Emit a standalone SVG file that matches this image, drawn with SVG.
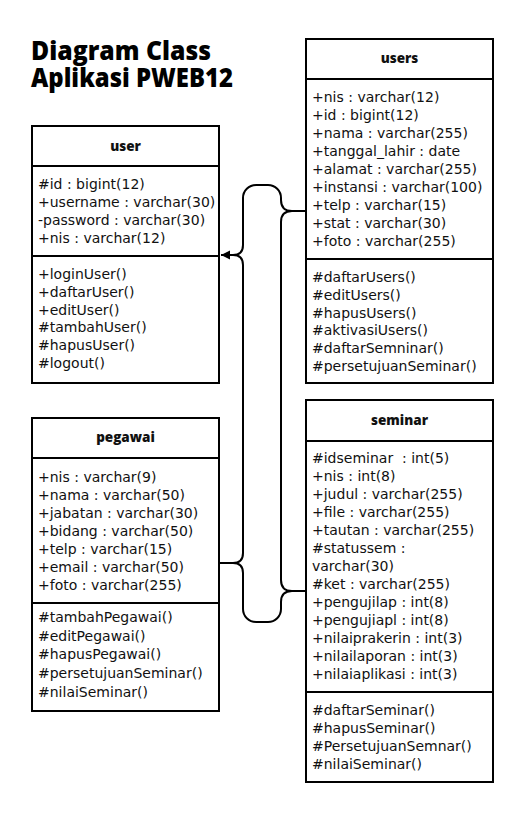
<svg xmlns="http://www.w3.org/2000/svg" width="520" height="814" viewBox="0 0 520 814">
<style>
.box{fill:#fff;stroke:#000;stroke-width:2}
.div{stroke:#000;stroke-width:2}
.t{font-family:"DejaVu Sans","Open Sans",sans-serif;font-size:14px;fill:#111}
.h{font-family:"Open Sans","DejaVu Sans",sans-serif;font-size:13.5px;font-weight:800;fill:#111;text-anchor:middle}
.title{font-family:"Open Sans","DejaVu Sans",sans-serif;font-size:26px;font-weight:800;fill:#000}
.c{fill:none;stroke:#000;stroke-width:2}
</style>
<defs>
<marker id="arr" markerWidth="10" markerHeight="10" refX="9" refY="5" orient="auto" markerUnits="userSpaceOnUse">
<path d="M0,0.5 L9,5 L0,9.5 Z" fill="#000"/>
</marker>
</defs>
<rect width="520" height="814" fill="#fff"/>
<g id="title">
<text class="title"><tspan x="31" y="60" textLength="180" lengthAdjust="spacingAndGlyphs">Diagram Class</tspan><tspan x="31" y="87" textLength="202" lengthAdjust="spacingAndGlyphs">Aplikasi PWEB12</tspan></text>
</g>
<g id="connectors">
<path class="c" d="M306,211 H292 Q281,211 281,200 V198 A13,13 0 0 0 268,185 H256 A13,13 0 0 0 243,198 V245 Q243,255 233,255 H221" marker-end="url(#arr)"/>
<path class="c" d="M292,211 Q281,211 281,222 V580 Q281,591 292,591 H306"/>
<path class="c" d="M233,255 Q243,255 243,265 V553 Q243,563 233,563 H219"/>
<path class="c" d="M233,563 Q243,563 243,573 V609 A13,13 0 0 0 256,622 H268 A13,13 0 0 0 281,609 V602 Q281,591 292,591"/>
</g>
<g id="user">
<rect class="box" x="32" y="126" width="187" height="257"/>
<line class="div" x1="32" y1="166" x2="219" y2="166"/>
<line class="div" x1="32" y1="256" x2="219" y2="256"/>
<text class="h" x="125.5" y="151">user</text>
<text class="t" x="38" y="189">#id : bigint(12)</text>
<text class="t" x="38" y="207">+username : varchar(30)</text>
<text class="t" x="38" y="225">-password : varchar(30)</text>
<text class="t" x="38" y="243">+nis : varchar(12)</text>
<text class="t" x="38" y="279">+loginUser()</text>
<text class="t" x="38" y="297">+daftarUser()</text>
<text class="t" x="38" y="315">+editUser()</text>
<text class="t" x="38" y="332">#tambahUser()</text>
<text class="t" x="38" y="350">#hapusUser()</text>
<text class="t" x="38" y="368">#logout()</text>
</g>
<g id="users">
<rect class="box" x="306" y="39" width="187" height="344"/>
<line class="div" x1="306" y1="79" x2="493" y2="79"/>
<line class="div" x1="306" y1="259" x2="493" y2="259"/>
<text class="h" x="399.5" y="63">users</text>
<text class="t" x="312" y="102">+nis : varchar(12)</text>
<text class="t" x="312" y="120">+id : bigint(12)</text>
<text class="t" x="312" y="138">+nama : varchar(255)</text>
<text class="t" x="312" y="156">+tanggal_lahir : date</text>
<text class="t" x="312" y="174">+alamat : varchar(255)</text>
<text class="t" x="312" y="192">+instansi : varchar(100)</text>
<text class="t" x="312" y="210">+telp : varchar(15)</text>
<text class="t" x="312" y="228">+stat : varchar(30)</text>
<text class="t" x="312" y="246">+foto : varchar(255)</text>
<text class="t" x="312" y="282">#daftarUsers()</text>
<text class="t" x="312" y="300">#editUsers()</text>
<text class="t" x="312" y="318">#hapusUsers()</text>
<text class="t" x="312" y="335">#aktivasiUsers()</text>
<text class="t" x="312" y="353">#daftarSemninar()</text>
<text class="t" x="312" y="371">#persetujuanSeminar()</text>
</g>
<g id="pegawai">
<rect class="box" x="32" y="418" width="187" height="293"/>
<line class="div" x1="32" y1="458" x2="219" y2="458"/>
<line class="div" x1="32" y1="603" x2="219" y2="603"/>
<text class="h" x="125.5" y="442">pegawai</text>
<text class="t" x="38" y="482">+nis : varchar(9)</text>
<text class="t" x="38" y="500">+nama : varchar(50)</text>
<text class="t" x="38" y="518">+jabatan : varchar(30)</text>
<text class="t" x="38" y="536">+bidang : varchar(50)</text>
<text class="t" x="38" y="554">+telp : varchar(15)</text>
<text class="t" x="38" y="572">+email : varchar(50)</text>
<text class="t" x="38" y="590">+foto : varchar(255)</text>
<text class="t" x="38" y="622">#tambahPegawai()</text>
<text class="t" x="38" y="641">#editPegawai()</text>
<text class="t" x="38" y="659">#hapusPegawai()</text>
<text class="t" x="38" y="678">#persetujuanSeminar()</text>
<text class="t" x="38" y="697">#nilaiSeminar()</text>
</g>
<g id="seminar">
<rect class="box" x="306" y="400" width="187" height="382"/>
<line class="div" x1="306" y1="441" x2="493" y2="441"/>
<line class="div" x1="306" y1="692" x2="493" y2="692"/>
<text class="h" x="399.5" y="425">seminar</text>
<text class="t" x="312" y="463" xml:space="preserve">#idseminar  : int(5)</text>
<text class="t" x="312" y="481">+nis : int(8)</text>
<text class="t" x="312" y="499">+judul : varchar(255)</text>
<text class="t" x="312" y="517">+file : varchar(255)</text>
<text class="t" x="312" y="535">+tautan : varchar(255)</text>
<text class="t" x="312" y="553">#statussem :</text>
<text class="t" x="312" y="571">varchar(30)</text>
<text class="t" x="312" y="589">#ket : varchar(255)</text>
<text class="t" x="312" y="607">+pengujilap : int(8)</text>
<text class="t" x="312" y="625">+pengujiapl : int(8)</text>
<text class="t" x="312" y="643">+nilaiprakerin : int(3)</text>
<text class="t" x="312" y="661">+nilailaporan : int(3)</text>
<text class="t" x="312" y="679">+nilaiaplikasi : int(3)</text>
<text class="t" x="312" y="715">#daftarSeminar()</text>
<text class="t" x="312" y="733">#hapusSeminar()</text>
<text class="t" x="312" y="751">#PersetujuanSemnar()</text>
<text class="t" x="312" y="769">#nilaiSeminar()</text>
</g>
</svg>
